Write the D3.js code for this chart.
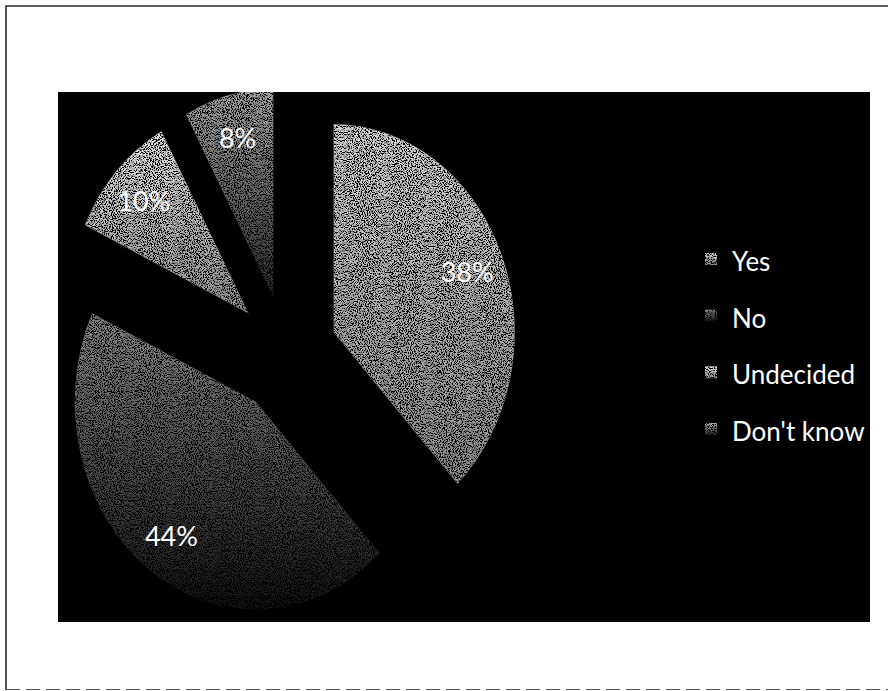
<!DOCTYPE html>
<html>
<head>
<meta charset="utf-8">
<script src="https://cdn.jsdelivr.net/npm/d3@7/dist/d3.min.js"></script>
<style>
  html, body { margin: 0; padding: 0; background: #fff; }
  svg { display: block; }
  text { font-family: Lato, "Noto Sans", sans-serif; }
</style>
</head>
<body>
<svg id="chart" width="888" height="691"></svg>
<script>
// Survey responses (percent)
const categories = ["Yes", "No", "Undecided", "Don't know"];
const values = [38, 44, 10, 8];
const labels = ["38%", "44%", "10%", "8%"];

// Fill shading per slice: [top colour, bottom colour]
const shades = [
  ["#d6d6d6", "#8c8c8c"],
  ["#8a8a8a", "#141414"],
  ["#e6e6e6", "#8e8e8e"],
  ["#a8a8a8", "#2a2a2a"]
];

const W = 888, H = 691;
const plot = { x0: 58, y0: 92, x1: 870, y1: 622 };
const center = { x: 286, y: 354 };
const radius = 208;
const explode = 59;
const squashX = 0.87;
const labelRadius = 165;

const svg = d3.select("#chart");
const defs = svg.append("defs");

// page frame
svg.append("rect").attr("width", W).attr("height", H).attr("fill", "#fff");
svg.append("path")
  .attr("d", `M6,${H - 1} L6,6 L${W},6`)
  .attr("fill", "none").attr("stroke", "#2a2a2a").attr("stroke-width", 1.6);
svg.append("line")
  .attr("x1", 6).attr("x2", W).attr("y1", H - 1.5).attr("y2", H - 1.5)
  .attr("stroke", "#555").attr("stroke-width", 1).attr("stroke-dasharray", "14 6");

// plot area
svg.append("rect")
  .attr("x", plot.x0).attr("y", plot.y0)
  .attr("width", plot.x1 - plot.x0).attr("height", plot.y1 - plot.y0)
  .attr("fill", "#000");

defs.append("clipPath").attr("id", "plotClip")
  .append("rect")
  .attr("x", plot.x0).attr("y", plot.y0)
  .attr("width", plot.x1 - plot.x0).attr("height", plot.y1 - plot.y0);

// grainy dotted texture
const grain = defs.append("filter").attr("id", "grain")
  .attr("x", "-5%").attr("y", "-5%").attr("width", "110%").attr("height", "110%");
grain.append("feTurbulence")
  .attr("type", "fractalNoise").attr("baseFrequency", "0.85")
  .attr("numOctaves", 2).attr("seed", 7).attr("result", "t");
grain.append("feColorMatrix").attr("in", "t").attr("type", "matrix")
  .attr("values", "0 0 0 0 0  0 0 0 0 0  0 0 0 0 0  -7 0 0 0 3.9")
  .attr("result", "m");
grain.append("feComposite").attr("in", "m").attr("in2", "SourceGraphic")
  .attr("operator", "in").attr("result", "dots");
const merge = grain.append("feMerge");
merge.append("feMergeNode").attr("in", "SourceGraphic");
merge.append("feMergeNode").attr("in", "dots");

shades.forEach((s, i) => {
  const g = defs.append("linearGradient").attr("id", "shade" + i)
    .attr("x1", 0).attr("y1", 0).attr("x2", 0).attr("y2", 1);
  g.append("stop").attr("offset", "0%").attr("stop-color", s[0]);
  g.append("stop").attr("offset", "100%").attr("stop-color", s[1]);
});

const pie = d3.pie().sort(null).value(d => d)(values);
const arc = d3.arc().innerRadius(0).outerRadius(radius);

const pieLayer = svg.append("g").attr("clip-path", "url(#plotClip)");
const pieG = pieLayer.append("g")
  .attr("transform", `translate(${center.x},${center.y}) scale(${squashX},1)`);

pie.forEach((d, i) => {
  const mid = (d.startAngle + d.endAngle) / 2;
  const ox = explode * Math.sin(mid), oy = -explode * Math.cos(mid);
  pieG.append("path")
    .attr("d", arc(d))
    .attr("transform", `translate(${ox},${oy})`)
    .attr("fill", `url(#shade${i})`)
    .attr("filter", "url(#grain)");
});

// data labels
pie.forEach((d, i) => {
  const mid = (d.startAngle + d.endAngle) / 2;
  const r = explode + labelRadius;
  const x = center.x + squashX * r * Math.sin(mid);
  const y = center.y - r * Math.cos(mid);
  svg.append("text")
    .attr("x", x).attr("y", y)
    .attr("text-anchor", "middle").attr("dominant-baseline", "central")
    .attr("font-size", 27).attr("fill", "#fff")
    .text(labels[i]);
});

// legend
const ly = d3.scalePoint().domain(categories).range([271, 441]);
const legend = svg.append("g").attr("clip-path", "url(#plotClip)");
categories.forEach((c, i) => {
  const y = ly(c);
  legend.append("rect")
    .attr("x", 705).attr("y", y - 18).attr("width", 12).attr("height", 12)
    .attr("fill", `url(#shade${i})`).attr("filter", "url(#grain)");
  legend.append("text")
    .attr("x", 732).attr("y", y)
    .attr("font-size", 26).attr("fill", "#fff")
    .text(c);
});
</script>
</body>
</html>
